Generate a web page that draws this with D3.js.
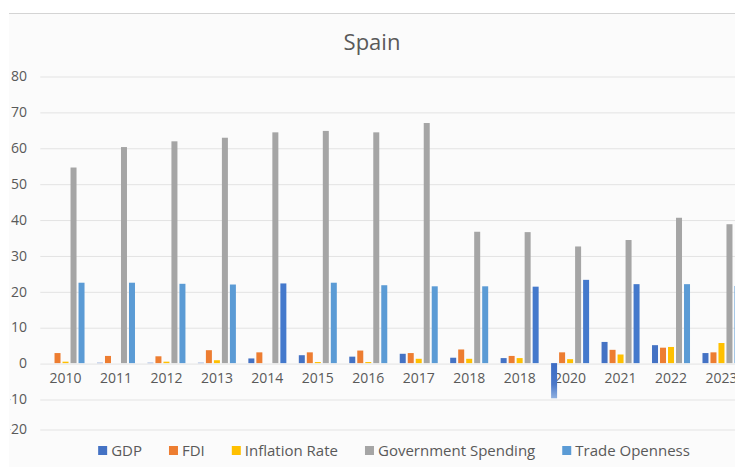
<!DOCTYPE html>
<html>
<head>
<meta charset="utf-8">
<script src="https://cdn.jsdelivr.net/npm/d3@7"></script>
<style>
  html, body { margin: 0; padding: 0; background: #ffffff; }
  svg { display: block; }
  text { font-family: "Open Sans", "Noto Sans", sans-serif; fill: #595959; }
</style>
</head>
<body>
<svg id="chart" width="735" height="467"></svg>
<script>
// Spain: macro indicators by year (%)
const categories = ["2010", "2011", "2012", "2013", "2014", "2015", "2016",
                    "2017", "2018", "2018", "2020", "2021", "2022", "2023"];
const seriesNames = ["GDP", "FDI", "Inflation Rate", "Government Spending", "Trade Openness"];
const gdp           = [0.0, 0.1, 0.1, 0.1, 1.3, 2.2, 1.8, 2.6, 1.5, 1.4, -9.8, 5.9, 5.0, 2.8];
const fdi           = [2.8, 2.0, 1.9, 3.6, 3.0, 3.0, 3.5, 2.8, 3.8, 2.0, 3.0, 3.7, 4.3, 3.0];
const inflationRate = [0.4, 0.0, 0.4, 0.8, 0.0, 0.3, 0.3, 1.2, 1.2, 1.4, 1.1, 2.4, 4.5, 5.6];
const govSpending   = [54.5, 60.2, 61.8, 62.8, 64.3, 64.7, 64.3, 66.9, 36.6, 36.5, 32.5, 34.3, 40.5, 38.7];
const tradeOpenness = [22.4, 22.4, 22.1, 21.9, 22.2, 22.4, 21.7, 21.4, 21.4, 21.3, 23.2, 22.0, 22.0, 21.5];
const yTickValues   = [-20, -10, 0, 10, 20, 30, 40, 50, 60, 70, 80];
const chartTitle    = "Spain";

const seriesValues = [gdp, fdi, inflationRate, govSpending, tradeOpenness];
const colors = ["#4472C4", "#ED7D31", "#FFC000", "#A5A5A5", "#5B9BD5"];
// a few Trade Openness columns are rendered in a deeper blue
const deeperTrade = new Set([4, 9, 10, 11]);

const svg = d3.select("#chart");
const defs = svg.append("defs");

// chart frame
defs.append("clipPath").attr("id", "frameClip")
  .append("rect").attr("x", 10.5).attr("y", 13).attr("width", 740).attr("height", 460);

const grad = defs.append("linearGradient")
  .attr("id", "negFade").attr("x1", 0).attr("y1", 0).attr("x2", 0).attr("y2", 1);
grad.append("stop").attr("offset", "0%").attr("stop-color", "#3d6cc4");
grad.append("stop").attr("offset", "60%").attr("stop-color", "#4a78c9");
grad.append("stop").attr("offset", "100%").attr("stop-color", "#8fb0e0");

svg.append("rect").attr("x", 9).attr("y", 13).attr("width", 740).attr("height", 460)
  .attr("fill", "#fbfbfb");
svg.append("line").attr("x1", 9).attr("x2", 735).attr("y1", 13.5).attr("y2", 13.5)
  .attr("stroke", "#d4d4d4").attr("stroke-width", 1);
const frame = svg.append("g").attr("clip-path", "url(#frameClip)");

// scales
const plotLeft = 40.3, plotRight = 746.7;
const y = d3.scaleLinear().domain([-20, -10, 80]).range([429, 399, 76]);
const x0 = d3.scaleBand().domain(d3.range(categories.length)).range([plotLeft, plotRight]).padding(0);
const groupWidth = 38;
const x1 = d3.scaleBand().domain(d3.range(seriesNames.length)).range([0, groupWidth]).paddingInner(0.25);
const groupOffset = (x0.bandwidth() - groupWidth) / 2;

// gridlines + y labels
const yAxis = d3.axisLeft(y).tickValues(yTickValues).tickSize(-(plotRight - plotLeft + 20))
  .tickFormat(d => String(d)).tickPadding(13);
const gy = frame.append("g").attr("transform", `translate(${plotLeft},0)`).call(yAxis);
gy.select(".domain").remove();
gy.selectAll(".tick line").attr("stroke", "#e3e3e3").attr("stroke-width", 1)
  .attr("transform", "translate(0,0.5)");
gy.selectAll(".tick text").attr("font-size", 14).attr("fill", "#595959")
  .attr("x", 27 - plotLeft).attr("dy", "0.34em");

// category labels below the zero line
const xAxis = d3.axisBottom(x0).tickSize(0).tickFormat(i => categories[i]).tickPadding(10);
const gx = frame.append("g").attr("transform", `translate(0,${y(0)})`).call(xAxis);
gx.select(".domain").remove();
gx.selectAll(".tick text").attr("font-size", 14).attr("fill", "#595959").attr("dy", "0.71em");

// bars
const groups = frame.append("g").selectAll("g.cat")
  .data(categories.map((c, i) => i))
  .join("g").attr("class", "cat")
  .attr("transform", i => `translate(${x0(i) + groupOffset},0)`);

groups.selectAll("rect")
  .data(i => seriesValues.map((vals, s) => ({ i, s, v: vals[i] })))
  .join("rect")
  .attr("x", d => x1(d.s))
  .attr("width", x1.bandwidth())
  .attr("y", d => Math.min(y(d.v), y(0)))
  .attr("height", d => Math.abs(y(d.v) - y(0)))
  .attr("fill", d => {
    if (d.v < 0) return "url(#negFade)";
    if (d.s === 4 && deeperTrade.has(d.i)) return "#4479CC";
    return colors[d.s];
  });

// title
svg.append("text").attr("x", 372).attr("y", 50).attr("text-anchor", "middle")
  .attr("font-size", 22).attr("fill", "#595959").text(chartTitle);

// legend
const legend = svg.append("g");
const items = legend.selectAll("g").data(seriesNames).join("g");
items.append("rect").attr("width", 9).attr("height", 9).attr("y", -4.5)
  .attr("fill", (d, i) => colors[i]);
items.append("text").attr("x", 13).attr("dy", "0.36em").attr("font-size", 15).text(d => d);
let cursor = 0;
items.each(function () {
  const w = 13 + d3.select(this).select("text").node().getComputedTextLength();
  d3.select(this).attr("transform", `translate(${cursor},0)`);
  cursor += w + 27;
});
const totalW = cursor - 27;
legend.attr("transform", `translate(${394 - totalW / 2},450.5)`);
</script>
</body>
</html>
